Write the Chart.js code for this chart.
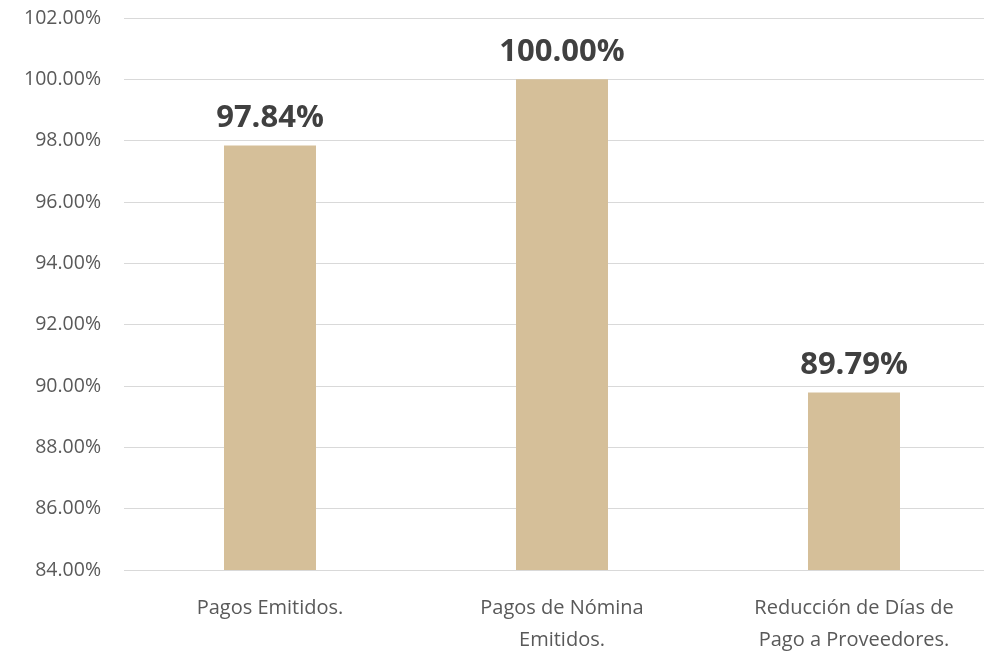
<!DOCTYPE html>
<html>
<head>
<meta charset="utf-8">
<script src="https://cdn.jsdelivr.net/npm/chart.js@4.4.1/dist/chart.umd.min.js"></script>
<style>
  html, body { margin: 0; padding: 0; background: #fff; overflow: hidden; }
  #wrap { width: 984px; height: 654px; overflow: hidden; }
</style>
</head>
<body>
<div id="wrap"><canvas id="chart" width="1000" height="654"></canvas></div>
<script>
const categories = [
  ['Pagos Emitidos.'],
  ['Pagos de Nómina', 'Emitidos.'],
  ['Reducción de Días de', 'Pago a Proveedores.']
];
const values = [97.84, 100.00, 89.79];
const yMin = 84;
const yMax = 102;
const yStep = 2;

// draws the bold percentage above each bar
const valueLabels = {
  id: 'valueLabels',
  afterDatasetsDraw(chart) {
    const ctx = chart.ctx;
    const meta = chart.getDatasetMeta(0);
    ctx.save();
    ctx.font = 'bold 31px "Open Sans"';
    ctx.fillStyle = '#404040';
    ctx.textAlign = 'center';
    ctx.textBaseline = 'bottom';
    meta.data.forEach((bar, i) => {
      ctx.fillText(values[i].toFixed(2) + '%', bar.x, bar.y - 12);
    });
    ctx.restore();
  }
};

new Chart(document.getElementById('chart'), {
  type: 'bar',
  data: {
    labels: categories,
    datasets: [{
      data: values,
      backgroundColor: '#d5bf99',
      categoryPercentage: 1,
      barPercentage: 0.315
    }]
  },
  options: {
    responsive: false,
    animation: false,
    layout: { padding: { top: 18, right: 0, left: 0, bottom: 0 } },
    plugins: {
      legend: { display: false },
      tooltip: { enabled: false }
    },
    scales: {
      x: {
        grid: { display: false },
        border: { color: '#d9d9d9', width: 1 },
        afterFit: s => { s.height = 84; s.paddingLeft = 0; s.paddingRight = 0; },
        ticks: {
          color: '#595959',
          font: { family: 'Open Sans', size: 20, lineHeight: 1.6 },
          padding: 14,
          maxRotation: 0,
          autoSkip: false
        }
      },
      y: {
        min: yMin,
        max: yMax,
        grid: { color: '#d9d9d9', lineWidth: 1, drawTicks: false },
        border: { display: false },
        afterFit: s => { s.width = 124; s.paddingTop = 0; s.paddingBottom = 0; },
        ticks: {
          stepSize: yStep,
          color: '#595959',
          font: { family: 'Open Sans', size: 19.5 },
          padding: 23,
          callback: v => v.toFixed(2) + '%'
        }
      }
    }
  },
  plugins: [valueLabels]
});
</script>
</body>
</html>
